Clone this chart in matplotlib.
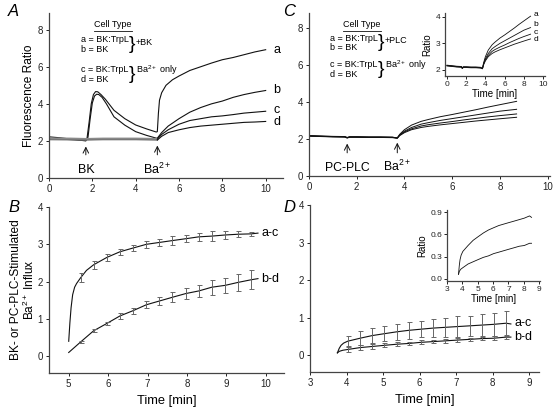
import matplotlib
matplotlib.use("Agg")
import matplotlib.pyplot as plt
import matplotlib.transforms as mtrans

plt.rcParams['font.family'] = ['Liberation Sans', 'DejaVu Sans']
plt.rcParams['mathtext.fontset'] = 'custom'
plt.rcParams['mathtext.rm'] = 'Liberation Sans'
plt.rcParams['mathtext.it'] = 'Liberation Sans:italic'
plt.rcParams['mathtext.bf'] = 'Liberation Sans:bold'

# ---------------- Panel A data ----------------
a_t = [0, 0.5, 1.0, 1.5, 1.7, 1.75, 1.85, 1.95, 2.05, 2.15, 2.25, 2.4, 2.6, 3.0, 3.5, 4.0, 4.5, 4.95,
       5.0, 5.05, 5.1, 5.2, 5.4, 5.7, 6.0, 6.5, 7.0, 7.5, 8.0, 8.5, 9.0, 9.5, 10.0]
a_v = [2.22, 2.17, 2.1, 2.05, 2.02, 2.1, 3.0, 4.0, 4.5, 4.66, 4.65, 4.5, 4.25, 3.65, 3.2, 2.86, 2.65, 2.48,
       2.5, 3.5, 4.2, 4.6, 5.0, 5.3, 5.5, 5.8, 6.0, 6.2, 6.38, 6.5, 6.65, 6.8, 6.92]
b_t = [0, 0.5, 1.0, 1.5, 1.7, 1.8, 1.9, 2.0, 2.1, 2.2, 2.3, 2.45, 2.65, 3.0, 3.5, 4.0, 4.5, 4.95,
       5.0, 5.2, 5.5, 6.0, 6.5, 7.0, 7.5, 8.0, 8.5, 9.0, 9.5, 10.0]
b_v = [2.12, 2.1, 2.07, 2.03, 2.0, 2.2, 3.2, 4.05, 4.42, 4.52, 4.5, 4.35, 4.0, 3.3, 2.85, 2.5, 2.3, 2.15,
       2.15, 2.45, 2.8, 3.2, 3.55, 3.8, 4.0, 4.15, 4.35, 4.5, 4.62, 4.72]
c_t = [0, 1.0, 1.7, 2.5, 4.0, 5.0, 5.2, 5.5, 6.0, 6.5, 7.0, 7.5, 8.0, 8.5, 9.0, 9.5, 10.0]
c_v = [2.13, 2.12, 2.1, 2.12, 2.12, 2.1, 2.35, 2.6, 2.9, 3.1, 3.2, 3.3, 3.35, 3.42, 3.5, 3.55, 3.6]
d_t = [0, 1.0, 1.7, 2.5, 4.0, 5.0, 5.2, 5.5, 6.0, 6.5, 7.0, 7.5, 8.0, 8.5, 9.0, 9.5, 10.0]
d_v = [2.07, 2.06, 2.05, 2.07, 2.07, 2.05, 2.25, 2.45, 2.6, 2.72, 2.8, 2.85, 2.9, 2.95, 3.0, 3.02, 3.05]
a_labels = ['a', 'b', 'c', 'd']
a_label_y = [6.92, 4.75, 3.65, 3.0]

# ---------------- Panel C data ----------------
pc_t = [0, 0.5, 1.0, 1.5, 1.6, 1.7, 2.0, 2.5, 3.0, 3.5, 3.7, 3.8, 4.0, 4.3, 4.7, 5.0, 5.5, 6.0,
        6.5, 7.0, 7.5, 8.0, 8.7]
pa_v = [2.18, 2.16, 2.14, 2.13, 2.08, 2.12, 2.12, 2.11, 2.11, 2.1, 2.05, 2.25, 2.5, 2.75, 2.95, 3.05,
        3.2, 3.32, 3.45, 3.58, 3.72, 3.85, 4.03]
pb_v = [2.17, 2.15, 2.13, 2.12, 2.07, 2.11, 2.11, 2.1, 2.1, 2.09, 2.05, 2.22, 2.42, 2.62, 2.8, 2.88,
        3.0, 3.1, 3.2, 3.3, 3.4, 3.5, 3.6]
pcc_v = [2.16, 2.14, 2.12, 2.11, 2.06, 2.1, 2.1, 2.09, 2.09, 2.08, 2.05, 2.2, 2.38, 2.55, 2.7, 2.77,
         2.86, 2.94, 3.03, 3.11, 3.19, 3.26, 3.35]
pd_v = [2.15, 2.13, 2.11, 2.1, 2.05, 2.09, 2.09, 2.08, 2.08, 2.07, 2.04, 2.18, 2.34, 2.5, 2.62, 2.68,
        2.76, 2.83, 2.9, 2.97, 3.03, 3.09, 3.17]
ci_label_y = [4.1, 3.7, 3.42, 3.14]

# ---------------- Panel B data ----------------
bac_t = [5.0, 5.03, 5.06, 5.1, 5.15, 5.2, 5.3, 5.45, 5.63, 5.8, 5.97, 6.3, 6.63, 6.97, 7.3, 7.63,
         7.97, 8.3, 8.63, 8.97, 9.3, 9.63, 9.8]
bac_v = [0.4, 0.9, 1.3, 1.65, 1.85, 1.95, 2.1, 2.3, 2.45, 2.55, 2.65, 2.8, 2.9, 3.0, 3.05, 3.1,
         3.15, 3.2, 3.22, 3.25, 3.27, 3.28, 3.3]
bbd_t = [5.0, 5.3, 5.63, 5.97, 6.3, 6.63, 6.97, 7.3, 7.63, 7.97, 8.3, 8.63, 8.97, 9.3, 9.63, 9.8]
bbd_v = [0.1, 0.38, 0.68, 0.88, 1.08, 1.22, 1.38, 1.48, 1.58, 1.68, 1.75, 1.85, 1.9, 1.98, 2.05, 2.08]
b_err_t = [5.3, 5.63, 5.97, 6.3, 6.63, 6.97, 7.3, 7.63, 7.97, 8.3, 8.63, 8.97, 9.3, 9.63]
b_err_ac_m = [2.1, 2.45, 2.65, 2.8, 2.9, 3.0, 3.05, 3.1, 3.15, 3.2, 3.22, 3.25, 3.27, 3.28]
b_err_ac_e = [0.12, 0.1, 0.1, 0.08, 0.08, 0.1, 0.1, 0.12, 0.1, 0.1, 0.13, 0.1, 0.08, 0.06]
b_err_bd_m = [0.38, 0.68, 0.88, 1.08, 1.22, 1.38, 1.48, 1.58, 1.68, 1.75, 1.85, 1.9, 1.98, 2.05]
b_err_bd_e = [0.03, 0.04, 0.05, 0.07, 0.08, 0.1, 0.12, 0.14, 0.15, 0.17, 0.2, 0.2, 0.22, 0.25]

# ---------------- Panel D data ----------------
dac_t = [3.75, 3.8, 3.85, 3.92, 4.03, 4.37, 4.7, 5.03, 5.37, 5.7, 6.03, 6.37, 6.7, 7.03, 7.37, 7.7,
         8.03, 8.37, 8.5]
dac_v = [0.06, 0.18, 0.26, 0.32, 0.37, 0.45, 0.52, 0.57, 0.62, 0.66, 0.69, 0.72, 0.74, 0.76, 0.78,
         0.8, 0.82, 0.85, 0.83]
dbd_t = [3.75, 3.8, 3.9, 4.03, 4.37, 4.7, 5.03, 5.37, 5.7, 6.03, 6.37, 6.7, 7.03, 7.37, 7.7, 8.03,
         8.37, 8.5]
dbd_v = [0.06, 0.1, 0.13, 0.15, 0.2, 0.23, 0.26, 0.29, 0.31, 0.34, 0.36, 0.38, 0.4, 0.42, 0.44,
         0.45, 0.48, 0.48]
d_err_t = [4.03, 4.37, 4.7, 5.03, 5.37, 5.7, 6.03, 6.37, 6.7, 7.03, 7.37, 7.7, 8.03, 8.37]
d_err_ac_m = [0.37, 0.45, 0.52, 0.57, 0.62, 0.66, 0.69, 0.72, 0.74, 0.76, 0.78, 0.8, 0.82, 0.85]
d_err_ac_e = [0.15, 0.18, 0.2, 0.2, 0.22, 0.22, 0.22, 0.25, 0.25, 0.27, 0.27, 0.3, 0.3, 0.32]
d_err_bd_m = [0.15, 0.2, 0.23, 0.26, 0.29, 0.31, 0.34, 0.36, 0.38, 0.4, 0.42, 0.44, 0.45, 0.48]
d_err_bd_e = [0.08, 0.07, 0.06, 0.05, 0.05, 0.05, 0.05, 0.05, 0.05, 0.05, 0.04, 0.05, 0.05, 0.04]

W, H = 556, 411
fig = plt.figure(figsize=(W / 100, H / 100), dpi=100)
renderer = fig.canvas.get_renderer()


def add_ax(left, top, right, bottom):
    return fig.add_axes([left / W, 1 - bottom / H, (right - left) / W, (bottom - top) / H])


def style(ax, fs=7):
    for s in ('top', 'right'):
        ax.spines[s].set_visible(False)
    for s in ('left', 'bottom'):
        ax.spines[s].set_color('#444444')
        ax.spines[s].set_linewidth(0.9)
    ax.tick_params(direction='out', length=2.5, width=0.7, labelsize=fs, pad=2, colors='#222222')


LFS = 6.5
K = '#111111'
G = '#666666'
LW = 0.8


def cell_legend(ax, x0_px, ys, tag):
    y_ct, y_a, y_b, y_c, y_d = ys
    fx = lambda px: px / W
    blend = mtrans.blended_transform_factory(fig.transFigure, ax.transData)
    ta = ax.text(fx(x0_px), y_a, 'a = BK:TrpL', fontsize=LFS, va='center', transform=blend)
    ax.text(fx(x0_px), y_b, 'b = BK', fontsize=LFS, va='center', transform=blend)
    ax.text(fx(x0_px), y_c, 'c = BK:TrpL', fontsize=LFS, va='center', transform=blend)
    ax.text(fx(x0_px), y_d, 'd = BK', fontsize=LFS, va='center', transform=blend)
    bb = ta.get_window_extent(renderer)
    xr_px = bb.x1 + 1
    ct_px = (x0_px + bb.x1) / 2 + 8
    t = ax.text(fx(ct_px), y_ct, 'Cell Type', fontsize=LFS, ha='center', va='center', transform=blend)
    cb = t.get_window_extent(renderer)
    ax.plot([cb.x0 / W, cb.x1 / W], [y_ct - 0.34, y_ct - 0.34], color=K, lw=0.6, transform=blend)
    ax.text(fx(xr_px + 2), (y_a + y_b) / 2, '}', fontsize=14, va='center', ha='center', transform=blend)
    ax.text(fx(xr_px + 6), (y_a + y_b) / 2 + 0.12, tag, fontsize=LFS, va='center', transform=blend)
    ax.text(fx(xr_px + 2), (y_c + y_d) / 2, '}', fontsize=14, va='center', ha='center', transform=blend)
    ax.text(fx(xr_px + 6), y_c, 'Ba$^{2+}$ only', fontsize=LFS, va='center', transform=blend)


# ---------- A ----------
axA = add_ax(49, 13, 283, 178)
style(axA)
axA.plot(a_t, a_v, color=K, lw=LW)
axA.plot(b_t, b_v, color=K, lw=LW)
nc = c_t.index(5.0) + 1
axA.plot(c_t[:nc], c_v[:nc], color='#8a8a8a', lw=1.6)
axA.plot(d_t[:nc], d_v[:nc], color='#777777', lw=1.0)
axA.plot(c_t[nc - 1:], c_v[nc - 1:], color=K, lw=LW)
axA.plot(d_t[nc - 1:], d_v[nc - 1:], color=K, lw=LW)
axA.set_xlim(0, 10.8)
axA.set_ylim(0, 8.9)
axA.set_xticks([0, 2, 4, 6, 8, 10])
axA.set_yticks([0, 2, 4, 6, 8])
axA.set_ylabel('Fluorescence Ratio', fontsize=8.6, labelpad=1.5)
for lab, y in zip(a_labels, a_label_y):
    axA.text(10.35, y, lab, fontsize=9, va='center', ha='left')
axA.annotate('', xy=(1.7, 1.85), xytext=(1.7, 1.1),
             arrowprops=dict(arrowstyle='->', lw=0.7, color=K))
axA.text(1.7, 0.45, 'BK', fontsize=9, ha='center', va='center')
axA.annotate('', xy=(5.0, 1.9), xytext=(5.0, 1.1),
             arrowprops=dict(arrowstyle='->', lw=0.7, color=K))
axA.text(5.0, 0.45, 'Ba$^{2+}$', fontsize=9, ha='center', va='center')
cell_legend(axA, 81, [8.27, 7.46, 6.92, 5.84, 5.3], '+BK')

# ---------- C ----------
axC = add_ax(309, 13, 550, 176)
style(axC)
for v in (pa_v, pb_v, pcc_v, pd_v):
    axC.plot(pc_t, v, color=K, lw=0.7)
axC.set_xlim(0, 10.1)
axC.set_ylim(0, 8.8)
axC.set_xticks([0, 2, 4, 6, 8, 10])
axC.set_yticks([0, 2, 4, 6, 8])
axC.annotate('', xy=(1.6, 1.9), xytext=(1.6, 1.1),
             arrowprops=dict(arrowstyle='->', lw=0.7, color=K))
axC.text(1.6, 0.45, 'PC-PLC', fontsize=8.8, ha='center', va='center')
axC.annotate('', xy=(3.7, 1.95), xytext=(3.7, 1.1),
             arrowprops=dict(arrowstyle='->', lw=0.7, color=K))
axC.text(3.7, 0.5, 'Ba$^{2+}$', fontsize=8.8, ha='center', va='center')
cell_legend(axC, 330, [8.16, 7.45, 6.95, 6.0, 5.5], '+PLC')

# ---------- C inset ----------
axCi = add_ax(445, 13, 545, 76)
style(axCi, fs=6)
for v in (pa_v, pb_v, pcc_v, pd_v):
    axCi.plot(pc_t, v, color=K, lw=0.6)
axCi.set_xlim(-0.2, 10.2)
axCi.set_ylim(1.77, 4.15)
axCi.set_xticks([0, 2, 4, 6, 8, 10])
axCi.set_yticks([2, 3, 4])
axCi.tick_params(length=2, pad=1.5)
axCi.set_xlabel('Time [min]', fontsize=7, labelpad=1)
axCi.set_ylabel('Ratio', fontsize=7, labelpad=2)
for lab, y in zip(a_labels, ci_label_y):
    axCi.text(9.0, y, lab, fontsize=6, va='center')

# ---------- B ----------
axB = add_ax(49, 207, 284, 373)
style(axB)
axB.plot(bac_t, bac_v, color=K, lw=LW)
axB.plot(bbd_t, bbd_v, color=K, lw=LW)
axB.errorbar(b_err_t, b_err_ac_m, yerr=b_err_ac_e, fmt='none', ecolor=G, elinewidth=0.7, capsize=1.8, capthick=0.7)
axB.errorbar(b_err_t, b_err_bd_m, yerr=b_err_bd_e, fmt='none', ecolor=G, elinewidth=0.7, capsize=1.8, capthick=0.7)
axB.set_xlim(4.5, 10.46)
axB.set_ylim(-0.45, 4)
axB.set_xticks([5, 6, 7, 8, 9, 10])
axB.set_yticks([0, 1, 2, 3, 4])
axB.set_xlabel('Time [min]', fontsize=9.3, labelpad=4)
axB.set_ylabel('BK- or PC-PLC-Stimulated\nBa$^{2+}$ Influx', fontsize=8.6, labelpad=0, linespacing=1.0)
axB.text(9.88, 3.3, 'a-c', fontsize=9, va='center')
axB.text(9.88, 2.08, 'b-d', fontsize=9, va='center')

# ---------- D ----------
axD = add_ax(310, 205, 539, 372)
style(axD)
axD.plot(dac_t, dac_v, color=K, lw=LW)
axD.plot(dbd_t, dbd_v, color=K, lw=LW)
axD.errorbar(d_err_t, d_err_ac_m, yerr=d_err_ac_e, fmt='none', ecolor=G, elinewidth=0.7, capsize=1.8, capthick=0.7)
axD.errorbar(d_err_t, d_err_bd_m, yerr=d_err_bd_e, fmt='none', ecolor=G, elinewidth=0.7, capsize=1.8, capthick=0.7)
axD.set_xlim(3, 9.27)
axD.set_ylim(-0.45, 4)
axD.set_xticks([3, 4, 5, 6, 7, 8, 9])
axD.set_yticks([0, 1, 2, 3, 4])
axD.set_xlabel('Time [min]', fontsize=9.3, labelpad=4)
axD.text(8.6, 0.86, 'a-c', fontsize=9, va='center')
axD.text(8.6, 0.48, 'b-d', fontsize=9, va='center')

# ---------- D inset ----------
axDi = add_ax(447, 210, 540, 281)
style(axDi, fs=6)
axDi.plot(dac_t, dac_v, color=K, lw=0.6)
axDi.plot(dbd_t, dbd_v, color=K, lw=0.6)
axDi.set_xlim(3, 9.05)
axDi.set_ylim(-0.03, 0.93)
axDi.set_xticks([3, 4, 5, 6, 7, 8, 9])
axDi.set_yticks([0.0, 0.3, 0.6, 0.9])
axDi.set_yticklabels(['0.0', '0.3', '0.6', '0.9'])
axDi.tick_params(length=2, pad=1.5)
axDi.set_xlabel('Time [min]', fontsize=7, labelpad=1)
axDi.set_ylabel('Ratio', fontsize=7, labelpad=2)

# panel letters
for lab, x, y in [('A', 8, 12), ('B', 8, 207), ('C', 283, 12), ('D', 283, 207)]:
    fig.text(x / W, 1 - y / H, lab, fontsize=12, style='italic', ha='left', va='center')

fig.savefig('out.png', dpi=100)
